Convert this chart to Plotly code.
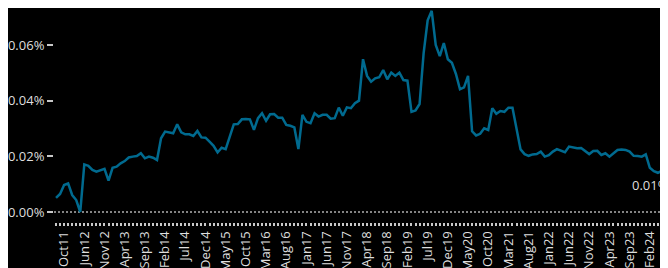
import plotly.graph_objects as go

# Category labels (monthly points; gap between Oct11 and Feb12)
months = (["Aug11", "Sep11", "Oct11", "Feb12", "Mar12", "Apr12", "May12"] +
          [f"{m}{y:02d}" for y in range(12, 25)
           for m in ["Jan", "Feb", "Mar", "Apr", "May", "Jun", "Jul", "Aug", "Sep", "Oct", "Nov", "Dec"]
           if not (y == 12 and m in ["Jan", "Feb", "Mar", "Apr", "May"]) and not (y == 24 and m in ["Jul", "Aug", "Sep", "Oct", "Nov", "Dec"])])

values = [
    0.0051, 0.0065, 0.0097, 0.0103, 0.0061, 0.0043, 0.0000, 0.0171, 0.0166, 0.0151,
    0.0145, 0.0151, 0.0155, 0.0113, 0.0159, 0.0163, 0.0175, 0.0183, 0.0196, 0.0199,
    0.0201, 0.0211, 0.0193, 0.0199, 0.0195, 0.0187, 0.0265, 0.0289, 0.0286, 0.0283,
    0.0315, 0.0286, 0.0279, 0.0279, 0.0273, 0.0291, 0.0268, 0.0267, 0.0253, 0.0238,
    0.0214, 0.0231, 0.0226, 0.0271, 0.0315, 0.0316, 0.0333, 0.0334, 0.0333, 0.0295,
    0.0337, 0.0355, 0.0328, 0.0351, 0.0352, 0.0339, 0.0339, 0.0313, 0.0310, 0.0304,
    0.0226, 0.0349, 0.0324, 0.0319, 0.0355, 0.0343, 0.0349, 0.0349, 0.0335, 0.0337,
    0.0375, 0.0346, 0.0376, 0.0373, 0.0391, 0.0400, 0.0549, 0.0489, 0.0468, 0.0480,
    0.0484, 0.0510, 0.0477, 0.0501, 0.0489, 0.0501, 0.0474, 0.0472, 0.0360, 0.0365,
    0.0388, 0.0570, 0.0689, 0.0723, 0.0600, 0.0560, 0.0607, 0.0549, 0.0536, 0.0496,
    0.0441, 0.0448, 0.0489, 0.0290, 0.0275, 0.0281, 0.0301, 0.0295, 0.0373, 0.0353,
    0.0363, 0.0360, 0.0375, 0.0375, 0.0301, 0.0225, 0.0208, 0.0202, 0.0207, 0.0208,
    0.0217, 0.0199, 0.0204, 0.0217, 0.0226, 0.0220, 0.0215, 0.0235, 0.0231, 0.0229,
    0.0230, 0.0220, 0.0208, 0.0219, 0.0220, 0.0205, 0.0211, 0.0199, 0.0211, 0.0223,
    0.0225, 0.0223, 0.0217, 0.0202, 0.0201, 0.0199, 0.0207, 0.0159, 0.0147, 0.0141,
    0.0148, 0.0137,
]

# Tick labels shown every 5th category
tick_labels = ["Oct11", "Jun12", "Nov12", "Apr13", "Sep13", "Feb14", "Jul14", "Dec14",
               "May15", "Oct15", "Mar16", "Aug16", "Jan17", "Jun17", "Nov17", "Apr18",
               "Sep18", "Feb19", "Jul19", "Dec19", "May20", "Oct20", "Mar21", "Aug21",
               "Jan22", "Jun22", "Nov22", "Apr23", "Sep23", "Feb24"]

y_ticks = [0.0, 0.02, 0.04, 0.06]

n = len(values)
cats = months[:n]
ticktext = [c if c in tick_labels else "" for c in cats]
y_ticktext = [f"{v:.2f}%" for v in y_ticks]

FONT = "Open Sans"
TXT = "#dedede"

fig = go.Figure()
fig.add_trace(go.Scatter(
    x=cats, y=values, mode="lines",
    line=dict(color="#006a8f", width=2.5),
    hoverinfo="skip", showlegend=False,
))

fig.add_shape(type="line", xref="paper", yref="y", x0=0, x1=1, y0=0, y1=0,
              line=dict(color="#b0b0b0", width=1.5, dash="2px,2px"), layer="below")

last_val = values[-1]
fig.add_annotation(x=cats[-1], y=last_val, text=f"{last_val:.2f}%",
                   showarrow=False, xanchor="right", yanchor="middle",
                   xshift=5, yshift=-11,
                   font=dict(family=FONT, size=13, color=TXT))

fig.update_layout(
    width=660, height=260,
    margin=dict(l=46, r=0, t=0, b=46, autoexpand=False),
    paper_bgcolor="black", plot_bgcolor="black",
    font=dict(family=FONT, size=13, color=TXT),
    xaxis=dict(
        type="category", categoryorder="array", categoryarray=cats,
        range=[-0.5, n - 0.5], automargin=False,
        tickmode="array", tickvals=cats, ticktext=ticktext,
        tickangle=-90, ticks="outside", ticklen=3, tickwidth=1.5, tickcolor="#c8c8c8",
        showgrid=False, zeroline=False, showline=False,
        tickfont=dict(family=FONT, size=13, color=TXT),
    ),
    yaxis=dict(
        range=[-0.00359, 0.0733], automargin=False,
        tickmode="array", tickvals=y_ticks, ticktext=y_ticktext,
        ticks="outside", ticklen=6, tickwidth=1.5, tickcolor="#c8c8c8",
        showgrid=False, zeroline=False, showline=False,
        tickfont=dict(family=FONT, size=13, color=TXT),
    ),
)

fig.write_html("out.html")
